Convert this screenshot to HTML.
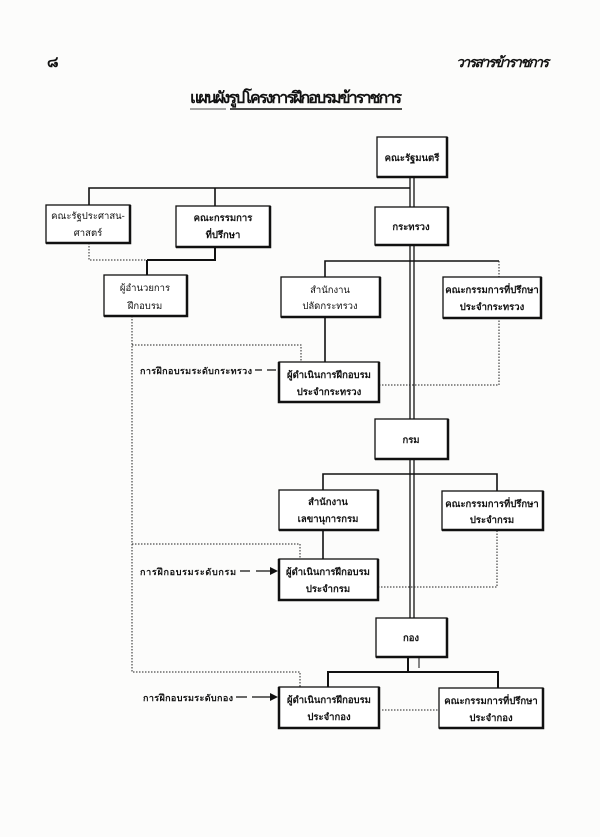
<!DOCTYPE html>
<html><head><meta charset="utf-8"><style>
html,body{margin:0;padding:0;background:#fcfcfb;}
svg{display:block}
text{font-family:"Liberation Sans","Noto Sans CJK SC",sans-serif;fill:#111;}
.b{fill:#fff;stroke:#111;stroke-width:1.3}
.t{font-size:9.5px;font-weight:bold;text-anchor:middle}
.s{stroke:#111;stroke-width:1.6;fill:none}
.d{stroke:#222;stroke-width:1;stroke-dasharray:1.5 1.5;fill:none}
</style></head><body>
<svg width="600" height="837" viewBox="0 0 600 837" xmlns="http://www.w3.org/2000/svg">
<text x="47" y="67" style="font-size:15px;font-weight:bold">๘</text>
<text x="456" y="67" style="font-size:14px;font-weight:bold;font-style:italic" textLength="93">วารสารข้าราชการ</text>
<text x="190" y="103" style="font-size:16px;font-weight:bold" textLength="212">แผนผังรูปโครงการฝึกอบรมข้าราชการ</text>
<line x1="190" y1="109" x2="226" y2="109" stroke="#111" stroke-width="0.8"/>
<line x1="230" y1="109" x2="402" y2="109" stroke="#111" stroke-width="1.5"/>

<!-- main double line -->
<line x1="410" y1="177" x2="410" y2="618" stroke="#111" stroke-width="1.3"/>
<line x1="414" y1="177" x2="414" y2="618" stroke="#111" stroke-width="1.3"/>
<line x1="408" y1="657" x2="408" y2="672" stroke="#111" stroke-width="2"/>
<line x1="419" y1="657" x2="419" y2="668" stroke="#111" stroke-width="1"/>

<!-- top connectors -->
<path class="s" d="M89 206 V188 H410 M215 188 V206"/>
<path class="d" d="M89 243 V260 H147"/>
<path class="s" d="M147 260 H215 V247 M147 260 V275" style="stroke-width:2"/>
<path class="s" d="M325 277 V261 H499"/>
<path class="d" d="M499 261 V277"/>
<path class="s" d="M325 317 V362"/>
<path class="d" d="M132 316 V672 H300 V688 M132 345 H301 V362 M132 544 H300 V560"/>
<path class="d" d="M379 385 H499 V318 M378 587 H497 V530 M382 710 H439"/>
<path class="s" d="M323 490 V474 H497 V491 M323 530 V560"/>
<path class="s" d="M328 688 V672 H498 V688" style="stroke-width:2"/>

<!-- dashed arrows -->
<path class="s" d="M255 370 H262 M267 370 H276" style="stroke-width:1.2"/>
<path class="s" d="M240 571 H250 M256 571 H270" style="stroke-width:1.2"/>
<path d="M270 567 L278 571 L270 575Z" fill="#111"/>
<path class="s" d="M236 697 H247 M252 697 H270" style="stroke-width:1.2"/>
<path d="M270 693 L278 697 L270 701Z" fill="#111"/>
<text x="140" y="374" style="font-size:9px;font-weight:bold" textLength="112">การฝึกอบรมระดับกระทรวง</text>
<text x="140" y="575" style="font-size:9px;font-weight:bold" textLength="96">การฝึกอบรมระดับกรม</text>
<text x="143" y="701" style="font-size:9px;font-weight:bold" textLength="90">การฝึกอบรมระดับกอง</text>

<!-- boxes -->
<g>
<rect class="b" x="377" y="137" width="70" height="40"/><path class="s" d="M447 137 V177 H377" style="stroke-width:2.5"/>
<text class="t" x="412" y="161">คณะรัฐมนตรี</text>

<rect class="b" x="46" y="205" width="84" height="38"/><path class="s" d="M130 205 V243 H46" style="stroke-width:2.5"/>
<text class="t" x="88" y="219" style="font-weight:normal">คณะรัฐประศาสน-</text><text class="t" x="88" y="236" style="font-weight:normal">ศาสตร์</text>

<rect class="b" x="176" y="206" width="94" height="41"/><path class="s" d="M270 206 V247 H176" style="stroke-width:2.5"/>
<text class="t" x="223" y="221">คณะกรรมการ</text><text class="t" x="223" y="238">ที่ปรึกษา</text>

<rect class="b" x="375" y="207" width="73" height="38"/><path class="s" d="M448 207 V245 H375" style="stroke-width:2.5"/>
<text class="t" x="411" y="230">กระทรวง</text>

<rect class="b" x="104" y="275" width="83" height="41"/><path class="s" d="M187 275 V316 H104" style="stroke-width:2.5"/>
<text class="t" x="145" y="291" style="font-weight:normal">ผู้อำนวยการ</text><text class="t" x="145" y="309" style="font-weight:normal">ฝึกอบรม</text>

<rect class="b" x="281" y="277" width="99" height="40"/><path class="s" d="M380 277 V317 H281" style="stroke-width:2.5"/>
<text class="t" x="330" y="293" style="font-weight:normal">สำนักงาน</text><text class="t" x="330" y="309" style="font-weight:normal">ปลัดกระทรวง</text>

<rect class="b" x="443" y="277" width="98" height="41"/><path class="s" d="M541 277 V318 H443" style="stroke-width:2.5"/>
<text class="t" x="492" y="293">คณะกรรมการที่ปรึกษา</text><text class="t" x="492" y="310">ประจำกระทรวง</text>

<rect class="b" x="279" y="362" width="100" height="40"/><path class="s" d="M279 362 V402 H379 V362" style="stroke-width:2.5"/>
<text class="t" x="329" y="378">ผู้ดำเนินการฝึกอบรม</text><text class="t" x="329" y="395">ประจำกระทรวง</text>

<rect class="b" x="375" y="419" width="73" height="40"/><path class="s" d="M448 419 V459 H375" style="stroke-width:2.5"/>
<text class="t" x="411" y="443">กรม</text>

<rect class="b" x="279" y="490" width="99" height="40"/><path class="s" d="M378 490 V530 H279" style="stroke-width:2.5"/>
<text class="t" x="328" y="505">สำนักงาน</text><text class="t" x="328" y="522">เลขานุการกรม</text>

<rect class="b" x="442" y="491" width="101" height="39"/><path class="s" d="M543 491 V530 H442" style="stroke-width:2.5"/>
<text class="t" x="492" y="507">คณะกรรมการที่ปรึกษา</text><text class="t" x="492" y="523">ประจำกรม</text>

<rect class="b" x="279" y="559" width="99" height="41"/><path class="s" d="M279 559 V600 H378 V559" style="stroke-width:2.5"/>
<text class="t" x="328" y="575">ผู้ดำเนินการฝึกอบรม</text><text class="t" x="328" y="592">ประจำกรม</text>

<rect class="b" x="376" y="618" width="71" height="39"/><path class="s" d="M447 618 V657 H376" style="stroke-width:2.5"/>
<text class="t" x="411" y="641">กอง</text>

<rect class="b" x="279" y="687" width="100" height="41"/><path class="s" d="M279 687 V728 H379 V687" style="stroke-width:2.5"/>
<text class="t" x="329" y="703">ผู้ดำเนินการฝึกอบรม</text><text class="t" x="329" y="720">ประจำกอง</text>

<rect class="b" x="439" y="688" width="104" height="40"/><path class="s" d="M543 688 V728 H439" style="stroke-width:2.5"/>
<text class="t" x="491" y="704">คณะกรรมการที่ปรึกษา</text><text class="t" x="491" y="721">ประจำกอง</text>
</g>
</svg>
</body></html>
